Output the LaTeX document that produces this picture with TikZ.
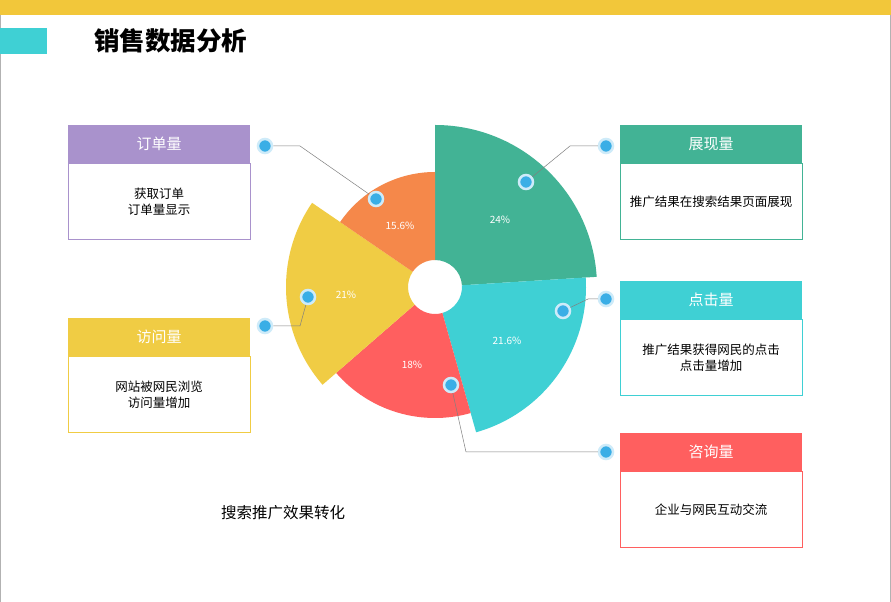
\documentclass[tikz,border=0pt]{standalone}
\usepackage{fontspec}
\setmainfont{Noto Sans CJK SC}
\usetikzlibrary{positioning}
\definecolor{cgreen}{HTML}{42B395}
\definecolor{ccyan}{HTML}{3FD0D4}
\definecolor{cred}{HTML}{FF5F5F}
\definecolor{cyellow}{HTML}{F0CC44}
\definecolor{corange}{HTML}{F5884A}
\definecolor{cpurple}{HTML}{A992CC}
\definecolor{cbar}{HTML}{F2C73A}
\definecolor{cdot}{HTML}{3AAEE6}

\tikzset{
  pct/.style={text=white, font=\fontsize{10}{12}\selectfont},
  dot/.style={circle, fill=cdot, draw=cdot!25, line width=2.5pt, minimum size=14pt, inner sep=0pt},
  lead/.style={draw=gray, line width=0.5pt},
  head/.style={minimum width=182pt, minimum height=38pt, inner sep=0pt, text=white, font=\fontsize{15}{17}\selectfont},
  body/.style={minimum width=182pt, minimum height=76pt, inner sep=0pt, fill=white, align=center, font=\fontsize{12.5}{16}\selectfont}
}

\begin{document}
\begin{tikzpicture}[x=1pt, y=1pt]
\useasboundingbox (0, 0) rectangle (891, 602);

% frame and title
\fill [white] (0, 0) rectangle (891, 602);
\fill [cbar] (0, 587) rectangle (891, 602);
\draw [gray!60] (0.5, 0) -- (0.5, 587);
\draw [gray!60] (890.5, 0) -- (890.5, 587);
\fill [ccyan] (0, 548) rectangle (47, 574);
\node [anchor=west, inner sep=0pt, font=\fontsize{25.5}{28}\selectfont\bfseries] (title) at (94, 561) {销售数据分析};

% pie
\begin{scope}[shift={(435, 315)}]
\fill [cgreen] (90:27) -- (90:162) arc [start angle=90, end angle=3.6, radius=162] -- (3.6:27) arc [start angle=3.6, end angle=90, radius=27] -- cycle;
\fill [ccyan] (3.6:27) -- (3.6:151) arc [start angle=3.6, end angle=-74.2, radius=151] -- (-74.2:27) arc [start angle=-74.2, end angle=3.6, radius=27] -- cycle;
\fill [cred] (-74.2:27) -- (-74.2:131) arc [start angle=-74.2, end angle=-139, radius=131] -- (-139:27) arc [start angle=-139, end angle=-74.2, radius=27] -- cycle;
\fill [cyellow] (-139:27) -- (-139:149) arc [start angle=-139, end angle=-214.4, radius=149] -- (-214.4:27) arc [start angle=-214.4, end angle=-139, radius=27] -- cycle;
\fill [corange] (145.6:27) -- (145.6:115) arc [start angle=145.6, end angle=90, radius=115] -- (90:27) arc [start angle=90, end angle=145.6, radius=27] -- cycle;
\end{scope}

\node [pct] (p1) at (500, 382) {24\%};
\node [pct] (p2) at (507, 261) {21.6\%};
\node [pct] (p3) at (412, 237) {18\%};
\node [pct] (p4) at (346, 307) {21\%};
\node [pct] (p5) at (400, 376) {15.6\%};

% boxes
\node [head, fill=cpurple] (h1) at (159, 458) {订单量};
\node [body, draw=cpurple, below=0pt of h1] (b1) {获取订单\\订单量显示};
\node [head, fill=cyellow] (h2) at (159, 265) {访问量};
\node [body, draw=cyellow, below=0pt of h2] (b2) {网站被网民浏览\\访问量增加};
\node [head, fill=cgreen] (h3) at (711, 458) {展现量};
\node [body, draw=cgreen, below=0pt of h3] (b3) {推广结果在搜索结果页面展现};
\node [head, fill=ccyan] (h4) at (711, 302) {点击量};
\node [body, draw=ccyan, below=0pt of h4] (b4) {推广结果获得网民的点击\\点击量增加};
\node [head, fill=cred] (h5) at (711, 150) {咨询量};
\node [body, draw=cred, below=0pt of h5] (b5) {企业与网民互动交流};

\node [font=\fontsize{15.5}{18}\selectfont] (note) at (283, 89) {搜索推广效果转化};

% leaders
\coordinate (k1) at (300, 456);
\coordinate (k2) at (300, 276);
\coordinate (k3) at (570, 456);
\coordinate (k4) at (588, 303);
\coordinate (k5) at (466, 150);
\node [dot] (o1) at (265, 456) {};
\node [dot] (i1) at (376, 403) {};
\node [dot] (o2) at (265, 276) {};
\node [dot] (i2) at (308, 305) {};
\node [dot] (o3) at (606, 456) {};
\node [dot] (i3) at (526, 420) {};
\node [dot] (o4) at (606, 303) {};
\node [dot] (i4) at (563, 291) {};
\node [dot] (o5) at (606, 150) {};
\node [dot] (i5) at (451, 217) {};
\draw [lead] (o1) -- (k1) -- (i1);
\draw [lead] (o2) -- (k2) -- (i2);
\draw [lead] (o3) -- (k3) -- (i3);
\draw [lead] (o4) -- (k4) -- (i4);
\draw [lead] (o5) -- (k5) -- (i5);
\end{tikzpicture}
\end{document}
